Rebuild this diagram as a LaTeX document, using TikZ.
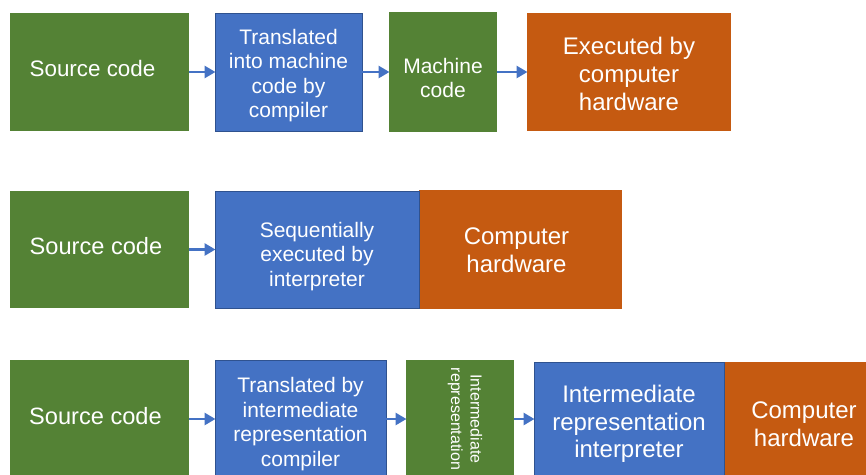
\documentclass[tikz,border=0pt]{standalone}
\usepackage{fontspec}
\setmainfont{Liberation Sans}
\usetikzlibrary{arrows.meta}
\definecolor{boxgreen}{HTML}{548235}
\definecolor{boxblue}{HTML}{4472C4}
\definecolor{boxblueline}{HTML}{2F528F}
\definecolor{boxorange}{HTML}{C55A11}
\tikzset{
  box/.style={inner sep=0pt, outer sep=0pt},
  greenbox/.style={box, fill=boxgreen},
  bluebox/.style={box, fill=boxblue, draw=boxblueline, line width=0.9pt},
  orangebox/.style={box, fill=boxorange},
  txt/.style={inner sep=0pt, align=center, text=white, font=\fontsize{21}{24.5}\selectfont},
  bigtext/.style={txt, font=\fontsize{24}{27.6}\selectfont},
  srctext/.style={txt, font=\fontsize{23.6}{27}\selectfont},
  flow/.style={draw=boxblue, line width=2.8pt, -{Triangle[length=11pt,width=12pt]}, shorten >=-0.5pt}
}
\begin{document}
\begin{tikzpicture}[x=1pt,y=-1pt]
\clip (0,0) rectangle (866,474);
\fill[white] (0,0) rectangle (866,474);

% Compiled language
\node[greenbox, minimum width=179pt, minimum height=118pt] (s1) at (99.5,72) {};
\node[bluebox, minimum width=147pt, minimum height=118pt] (t1) at (288.5,72) {};
\node[greenbox, minimum width=108pt, minimum height=120pt] (m1) at (443,72) {};
\node[orangebox, minimum width=204pt, minimum height=118pt] (e1) at (629,71.5) {};
\node[txt, font=\fontsize{22.4}{26}\selectfont] (s1t) at ([xshift=-7pt,yshift=4pt]s1.center) {Source code};
\node[txt] (t1t) at ([yshift=-3.5pt]t1.center) {Translated\\into machine\\code by\\compiler};
\node[txt] (m1t) at ([yshift=-6pt]m1.center) {Machine\\code};
\node[bigtext] (e1t) at ([yshift=-2.5pt]e1.center) {Executed by\\computer\\hardware};
\draw[flow] (s1.east) -- (t1.west);
\draw[flow] (t1.east) -- (m1.west);
\draw[flow] (m1.east) -- (m1.east -| e1.west);

% Interpreted language
\node[greenbox, minimum width=179pt, minimum height=117pt] (s2) at (99.5,249.5) {};
\node[orangebox, minimum width=203pt, minimum height=119pt] (h2) at (520.5,249.5) {};
\node[bluebox, minimum width=204pt, minimum height=117pt] (q2) at (317,249.5) {};
\node[srctext] (s2t) at ([xshift=-3.5pt,yshift=3pt]s2.center) {Source code};
\node[txt] (q2t) at ([yshift=-7pt]q2.center) {Sequentially\\executed by\\interpreter};
\node[bigtext] (h2t) at ([xshift=-4pt,yshift=-1pt]h2.center) {Computer\\hardware};
\draw[flow] (s2.east) -- (q2.west);

% Intermediate representation
\node[greenbox, minimum width=179pt, minimum height=118pt] (s3) at (99.5,419) {};
\node[bluebox, minimum width=171pt, minimum height=118pt] (c3) at (300.5,419) {};
\node[greenbox, minimum width=108pt, minimum height=118pt] (ir3) at (460,419) {};
\node[orangebox, minimum width=160pt, minimum height=116pt] (h3) at (804,420) {};
\node[bluebox, minimum width=190pt, minimum height=116pt] (i3) at (629,420) {};
\node[srctext] (s3t) at ([xshift=-4pt,yshift=3pt]s3.center) {Source code};
\node[txt] (c3t) at ([yshift=-5pt]c3.center) {Translated by\\intermediate\\representation\\compiler};
\node[txt, rotate=-90, font=\fontsize{16}{19.5}\selectfont] (ir3t) at ([xshift=5pt]ir3.center) {Intermediate\\representation};
\node[bigtext] (i3t) at ([yshift=-4pt]i3.center) {Intermediate\\representation\\interpreter};
\node[bigtext] (h3t) at ([yshift=-4pt]h3.center) {Computer\\hardware};
\draw[flow] (s3.east) -- (s3.east -| c3.west);
\draw[flow] (c3.east) -- (c3.east -| ir3.west);
\draw[flow] (ir3.east) -- (ir3.east -| i3.west);
\end{tikzpicture}
\end{document}
